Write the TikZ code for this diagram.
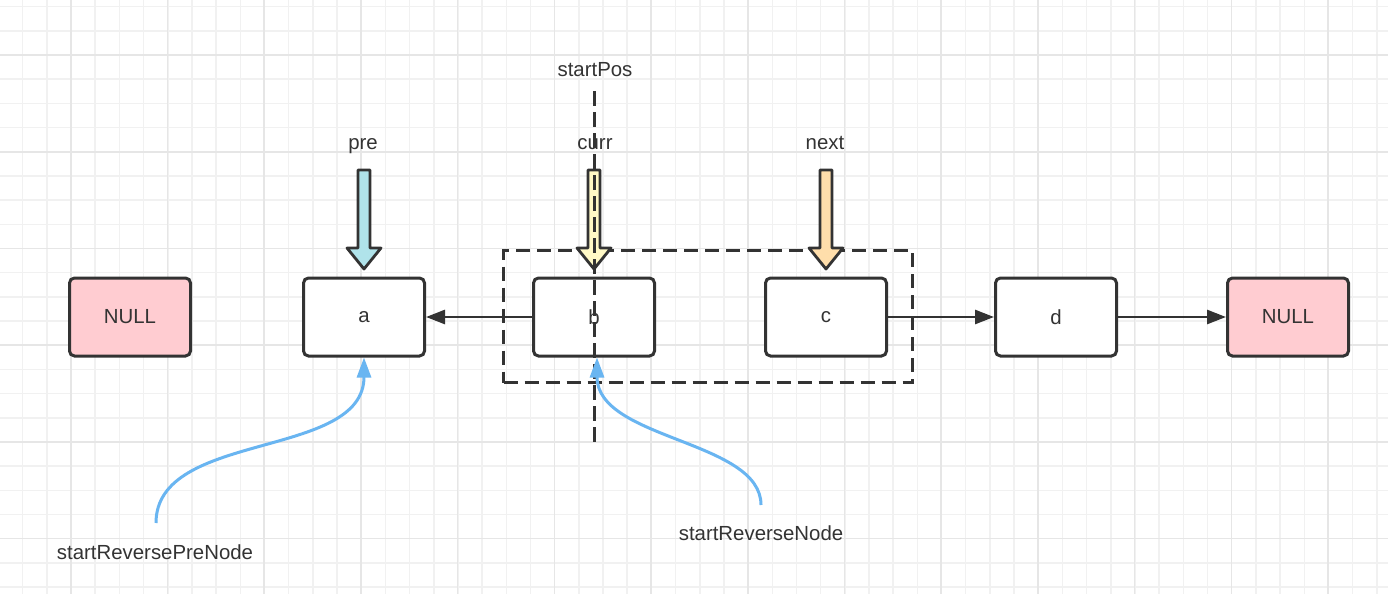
\documentclass[tikz,border=0pt]{standalone}
\usepackage{fontspec}
\setmainfont{Liberation Sans}
\usetikzlibrary{arrows.meta,calc}
\definecolor{ink}{HTML}{333333}
\definecolor{txt}{HTML}{333333}
\definecolor{pinkf}{HTML}{FFCCD1}
\definecolor{cyanf}{HTML}{B0E3EA}
\definecolor{yellowf}{HTML}{FFF9C6}
\definecolor{orangef}{HTML}{FFDEAB}
\definecolor{bluec}{HTML}{69B5F1}
\definecolor{gridmin}{HTML}{F1F1F1}
\definecolor{gridmaj}{HTML}{E6E6E6}
\begin{document}
\begin{tikzpicture}[x=1pt,y=-1pt,
  font=\fontsize{20.4}{24}\selectfont,
  gridminor/.style={draw=gridmin,line width=1.5pt},
  gridmajor/.style={draw=gridmaj,line width=1.6pt},
  listnode/.style={draw=ink,line width=3pt,rounded corners=5pt,fill=white,
     minimum width=121pt,minimum height=78pt,inner sep=0pt,text=txt},
  nullnode/.style={listnode,fill=pinkf},
  label/.style={text=txt,inner sep=0pt,anchor=base},
  link/.style={draw=ink,line width=2.7pt,-{Triangle[length=19pt,width=14pt]}},
  ptr/.style={draw=ink,line width=2.8pt,line join=round},
  group/.style={draw=ink,line width=3pt,dash pattern=on 14pt off 7pt,
     minimum width=409pt,minimum height=132pt,inner sep=0pt},
  divider/.style={draw=ink,line width=3pt,dash pattern=on 15pt off 6pt},
  refcurve/.style={draw=bluec,line width=3pt,-{Triangle[length=20pt,width=14pt]}}
]
\useasboundingbox (0,0) rectangle (1388,594);
\fill[white] (0,0) rectangle (1388,594);
% grid
\foreach \i in {0,...,56} \draw[gridminor] ({22.7+24.18*\i},0) -- ({22.7+24.18*\i},594);
\foreach \j in {0,...,24} \draw[gridminor] (0,{6.7+24.18*\j}) -- (1388,{6.7+24.18*\j});
\foreach \i in {0,...,13} \draw[gridmajor] ({70.7+96.72*\i},0) -- ({70.7+96.72*\i},594);
\foreach \j in {0,...,5} \draw[gridmajor] (0,{55+96.72*\j}) -- (1388,{55+96.72*\j});

% group box
\node[group] (grp) at (708,316.5) {};

% list nodes
\node[nullnode] (null1) at (130,317) {NULL};
\node[listnode] (a) at (364,317) {a};
\node[listnode] (b) at (594,317) {b};
\node[listnode] (c) at (826,317) {c};
\node[listnode] (d) at (1056,317) {d};
\node[nullnode] (null2) at (1288,317) {NULL};

% links
\draw[link] (b.west) -- (a.east);
\draw[link] (c.east) -- (d.west);
\draw[link] (d.east) -- (null2.west);

% pointer block arrows
\foreach \cx/\col in {364/cyanf,594/yellowf,826/orangef}{
  \filldraw[ptr,fill=\col] ({\cx-6},170) -- ({\cx+6},170) -- ({\cx+6},248) -- ({\cx+17},248)
     -- (\cx,269) -- ({\cx-17},248) -- ({\cx-6},248) -- cycle;
}

% labels
\node[label] (lpre) at (363,149) {pre};
\node[label] (lcurr) at (595,149) {curr};
\node[label] (lnext) at (825,149) {next};
\node[label] (lstart) at (595,76) {startPos};
\node[label] (lsrpn) at (155,559) {startReversePreNode};
\node[label] (lsrn) at (761,540) {startReverseNode};

% divider line
\coordinate (divtop) at (594,91);
\coordinate (divbot) at (594,445);
\draw[divider] (divtop) -- (divbot);

% curves
\coordinate (s1) at (156,523);
\coordinate (s2) at (761,505);
\draw[refcurve] (s1) .. controls (156,430) and (364,460) .. (a.south);
\draw[refcurve] (s2) .. controls (761,440) and (597,440) .. ([xshift=3pt]b.south);
\end{tikzpicture}
\end{document}
